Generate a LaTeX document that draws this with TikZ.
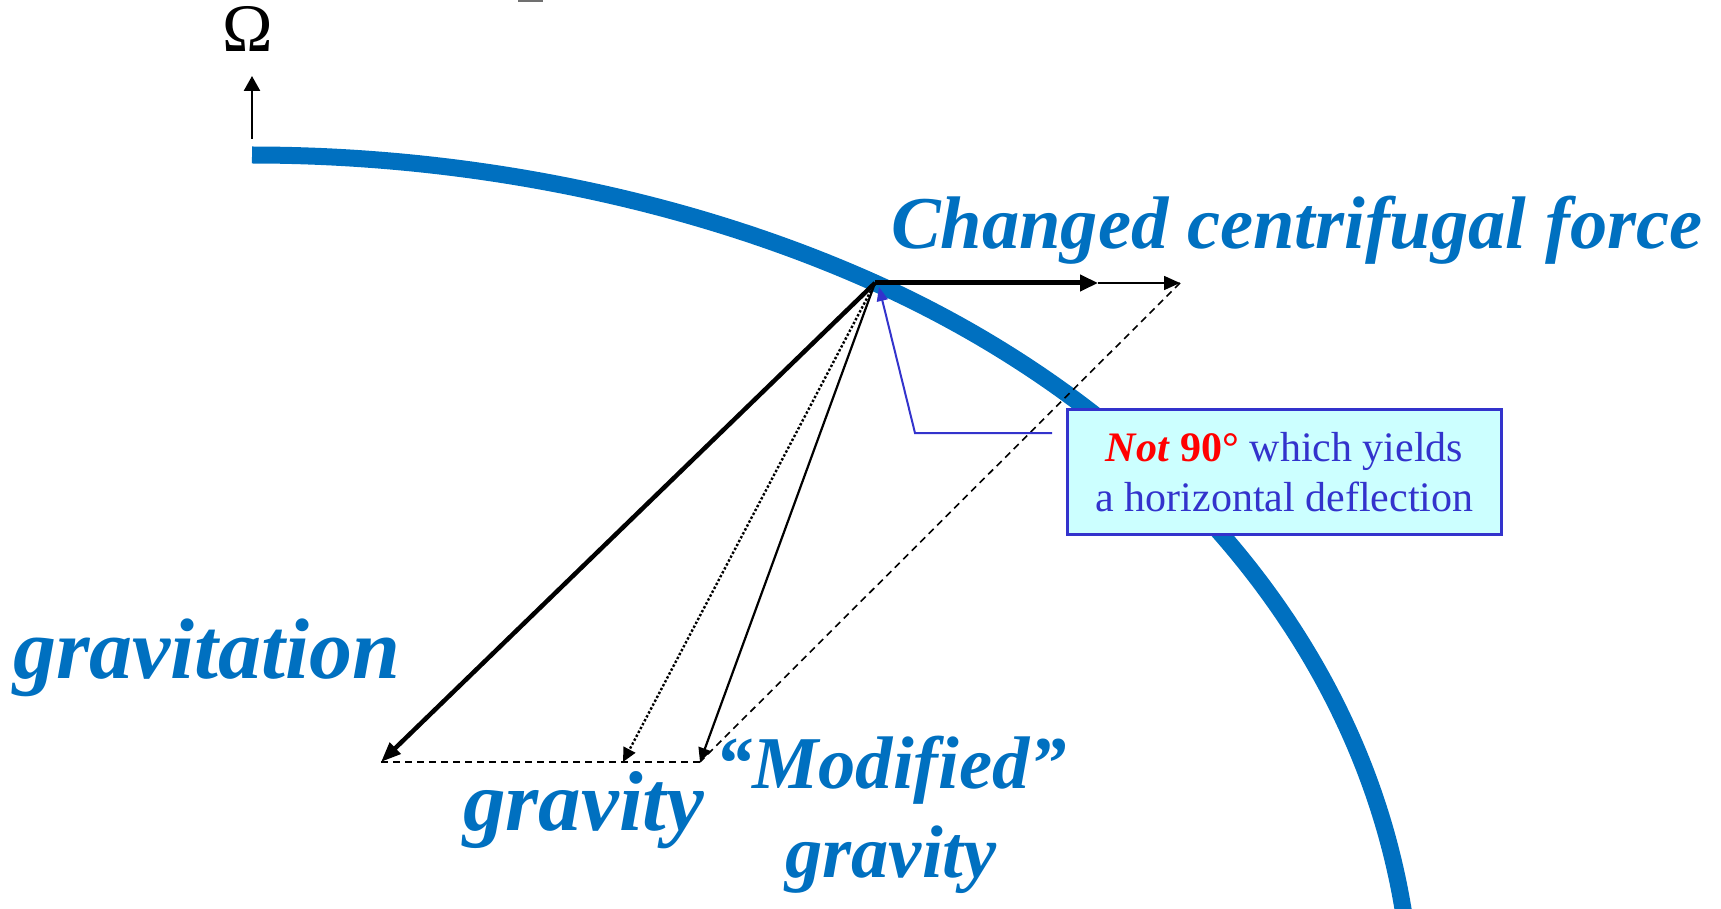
\documentclass[tikz,border=0pt]{standalone}
\usepackage{fontspec}
\setmainfont{Liberation Serif}
\usetikzlibrary{arrows.meta,calc}
\definecolor{pptblue}{HTML}{0070C0}
\definecolor{callblue}{HTML}{3333CC}
\definecolor{callfill}{HTML}{CCFFFF}
\definecolor{markgray}{HTML}{707070}
\begin{document}
\begin{tikzpicture}[x=1pt,y=-1pt,
  bigfont/.style={font={\fontsize{86}{100}\selectfont\bfseries\itshape}},
  gyfont/.style={font={\fontsize{85}{100}\selectfont\bfseries\itshape}},
  midfont/.style={font={\fontsize{74.5}{89}\selectfont\bfseries\itshape}},
  bluelabel/.style={text=pptblue, inner sep=0pt},
  thickvec/.style={line width=5pt, -{Triangle[length=18pt,width=16pt]}},
  gravvec/.style={line width=4.5pt, -{Triangle[length=20pt,width=15pt]}},
  thinvec/.style={line width=1.6pt, -{Triangle[length=16pt,width=14pt]}},
  dotvec/.style={line width=2.4pt, dotted, -{Triangle[length=14pt,width=13pt]}},
  solvec/.style={line width=2.2pt, -{Triangle[length=14pt,width=13pt]}},
  guide/.style={line width=1.6pt, dash pattern=on 7pt off 5pt},
  earth/.style={line width=17pt, draw=pptblue},
  callbox/.style={draw=callblue, line width=2.5pt, fill=callfill, minimum width=434pt,
    minimum height=125pt, inner sep=0pt, align=center, text=callblue,
    font={\fontsize{42}{50}\selectfont}},
  callline/.style={draw=callblue, line width=2pt, -{Triangle[length=14pt,width=11pt]}},
  omegaarrow/.style={line width=2.5pt, -{Triangle[length=15pt,width=16pt]}}
]
\useasboundingbox (0,0) rectangle (1721,909);

% earth surface
\begin{scope}
  \clip (0,0) rectangle (1721,909);
  \draw[earth] (252,155) .. controls (462,155) and (683.5,197) .. (875,283)
    .. controls (1005.4,341.6) and (1128.2,427) .. (1222,535)
    .. controls (1323.7,652) and (1381.7,780.8) .. (1403,909) -- (1416,989);
\end{scope}

% small gray mark at top edge
\fill[markgray] (518,0) rectangle (543,2);

% rotation axis
\node[inner sep=0pt, anchor=base, font={\fontsize{68}{80}\selectfont}] (om) at (248,52) {Ω};
\coordinate (w0) at (252,139);
\coordinate (w1) at (252,76);
\draw[omegaarrow] (w0) -- (w1);

% force vectors
\coordinate (O) at (875,283);
\coordinate (C1) at (1098,283);
\coordinate (C2) at (1180,283);
\coordinate (G) at (381,762);
\coordinate (M) at (623,762);
\coordinate (N) at (700,762);

\draw[guide] (G) -- (N);
\draw[guide] (C2) -- (N);
\draw[thickvec] (O) -- (C1);
\draw[thinvec] (C1) -- (C2);
\draw[gravvec] (O) -- (G);
\draw[dotvec] (O) -- (M);
\draw[solvec] (O) -- (N);

% callout
\node[callbox] (box) at (1284.5,472) {{\color{red}\textbf{\textit{Not} 90°}} which yields\\a horizontal deflection};
\coordinate (k1) at (1052,433);
\coordinate (k2) at (915,433);
\coordinate (k3) at (879,287);
\draw[callline] (k1) -- (k2) -- (k3);

% labels
\node[bluelabel, midfont, anchor=base west] (cf) at (891,249) {Changed centrifugal force};
\node[bluelabel, bigfont, anchor=base west] (gt) at (13,678) {gravitation};
\node[bluelabel, gyfont, anchor=base west] (gy) at (463,830) {gravity};
\node[bluelabel, midfont, anchor=base, align=center] (mg) at (891,877) {“Modified”\\gravity};
\end{tikzpicture}
\end{document}
